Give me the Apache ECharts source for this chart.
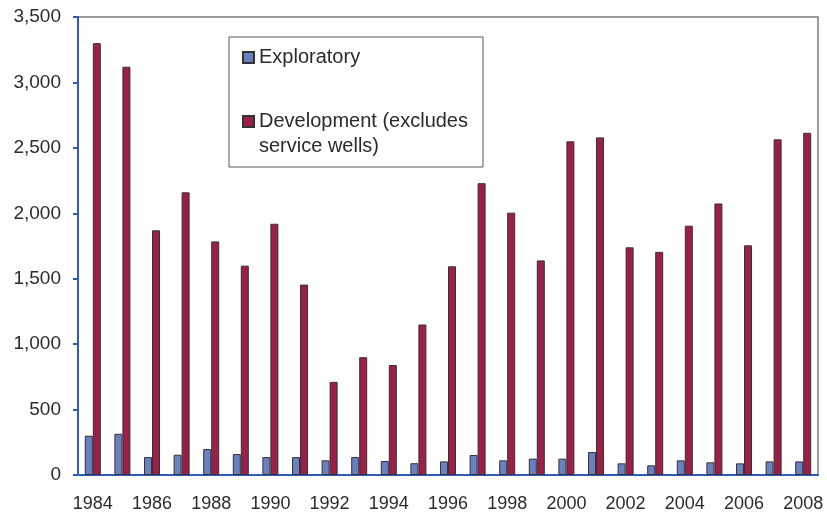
<!DOCTYPE html>
<html>
<head>
<meta charset="utf-8">
<script src="https://cdn.jsdelivr.net/npm/echarts@6/dist/echarts.min.js"></script>
<style>
  html, body { margin: 0; padding: 0; background: #fff; }
  #chart { width: 827px; height: 514px; }
</style>
</head>
<body>
<div id="chart"></div>
<script>
var years = ['1984', '1985', '1986', '1987', '1988', '1989', '1990', '1991', '1992', '1993',
  '1994', '1995', '1996', '1997', '1998', '1999', '2000', '2001', '2002', '2003',
  '2004', '2005', '2006', '2007', '2008']
var exploratory = [300, 315, 137, 155, 198, 160, 137, 137, 112, 137,
  107, 90, 104, 153, 112, 125, 125, 176, 89, 74,
  112, 97, 89, 104, 104]
var development = [3300, 3120, 1870, 2160, 1785, 1600, 1920, 1455, 712, 900,
  840, 1150, 1595, 2230, 2005, 1640, 2550, 2580, 1740, 1705,
  1905, 2075, 1755, 2565, 2615]
var exploratoryName = 'Exploratory'
// leading empty line keeps the icon level with the first text line
var developmentName = '\nDevelopment (excludes\nservice wells)'

var textColor = '#2b2b2b'
var axisBlue = '#2f5db3'
var font = 'Liberation Sans, Arial, sans-serif'

var chart = echarts.init(document.getElementById('chart'), null, { renderer: 'canvas' })

chart.setOption({
  animation: false,
  backgroundColor: '#fff',
  textStyle: { fontFamily: font },
  grid: {
    left: 78,
    right: 9,
    top: 17,
    bottom: 39,
    show: true,
    borderColor: '#7a7a7a',
    borderWidth: 1.5,
    backgroundColor: 'transparent'
  },
  legend: {
    orient: 'vertical',
    left: 229,
    top: 37,
    padding: [8, 15, 8, 13],
    itemGap: 14,
    itemWidth: 11,
    itemHeight: 11,
    icon: 'rect',
    borderColor: '#555',
    borderWidth: 1,
    backgroundColor: '#fff',
    data: [exploratoryName, developmentName],
    textStyle: {
      fontFamily: font,
      fontSize: 20,
      lineHeight: 25,
      color: textColor
    }
  },
  xAxis: {
    type: 'category',
    data: years,
    axisLine: { lineStyle: { color: axisBlue, width: 2 } },
    axisTick: { length: 5, lineStyle: { color: axisBlue, width: 2 } },
    axisLabel: {
      interval: 1,
      margin: 20,
      fontSize: 18,
      color: textColor,
      fontFamily: font
    }
  },
  yAxis: {
    type: 'value',
    min: 0,
    max: 3500,
    interval: 500,
    axisLine: { show: true, lineStyle: { color: axisBlue, width: 2 } },
    axisTick: { show: true, length: 5, lineStyle: { color: axisBlue, width: 2 } },
    splitLine: { show: false },
    axisLabel: {
      margin: 17,
      fontSize: 19,
      color: textColor,
      fontFamily: font,
      formatter: function (v) {
        return v.toLocaleString('en-US')
      }
    }
  },
  series: [
    {
      name: exploratoryName,
      type: 'bar',
      data: exploratory,
      barWidth: 8,
      barGap: '0%',
      itemStyle: { color: '#6b7fc3', borderColor: '#333', borderWidth: 1 }
    },
    {
      name: developmentName,
      type: 'bar',
      data: development,
      barWidth: 8,
      barGap: '0%',
      itemStyle: { color: '#9b1f47', borderColor: '#333', borderWidth: 1 }
    }
  ]
})
</script>
</body>
</html>
